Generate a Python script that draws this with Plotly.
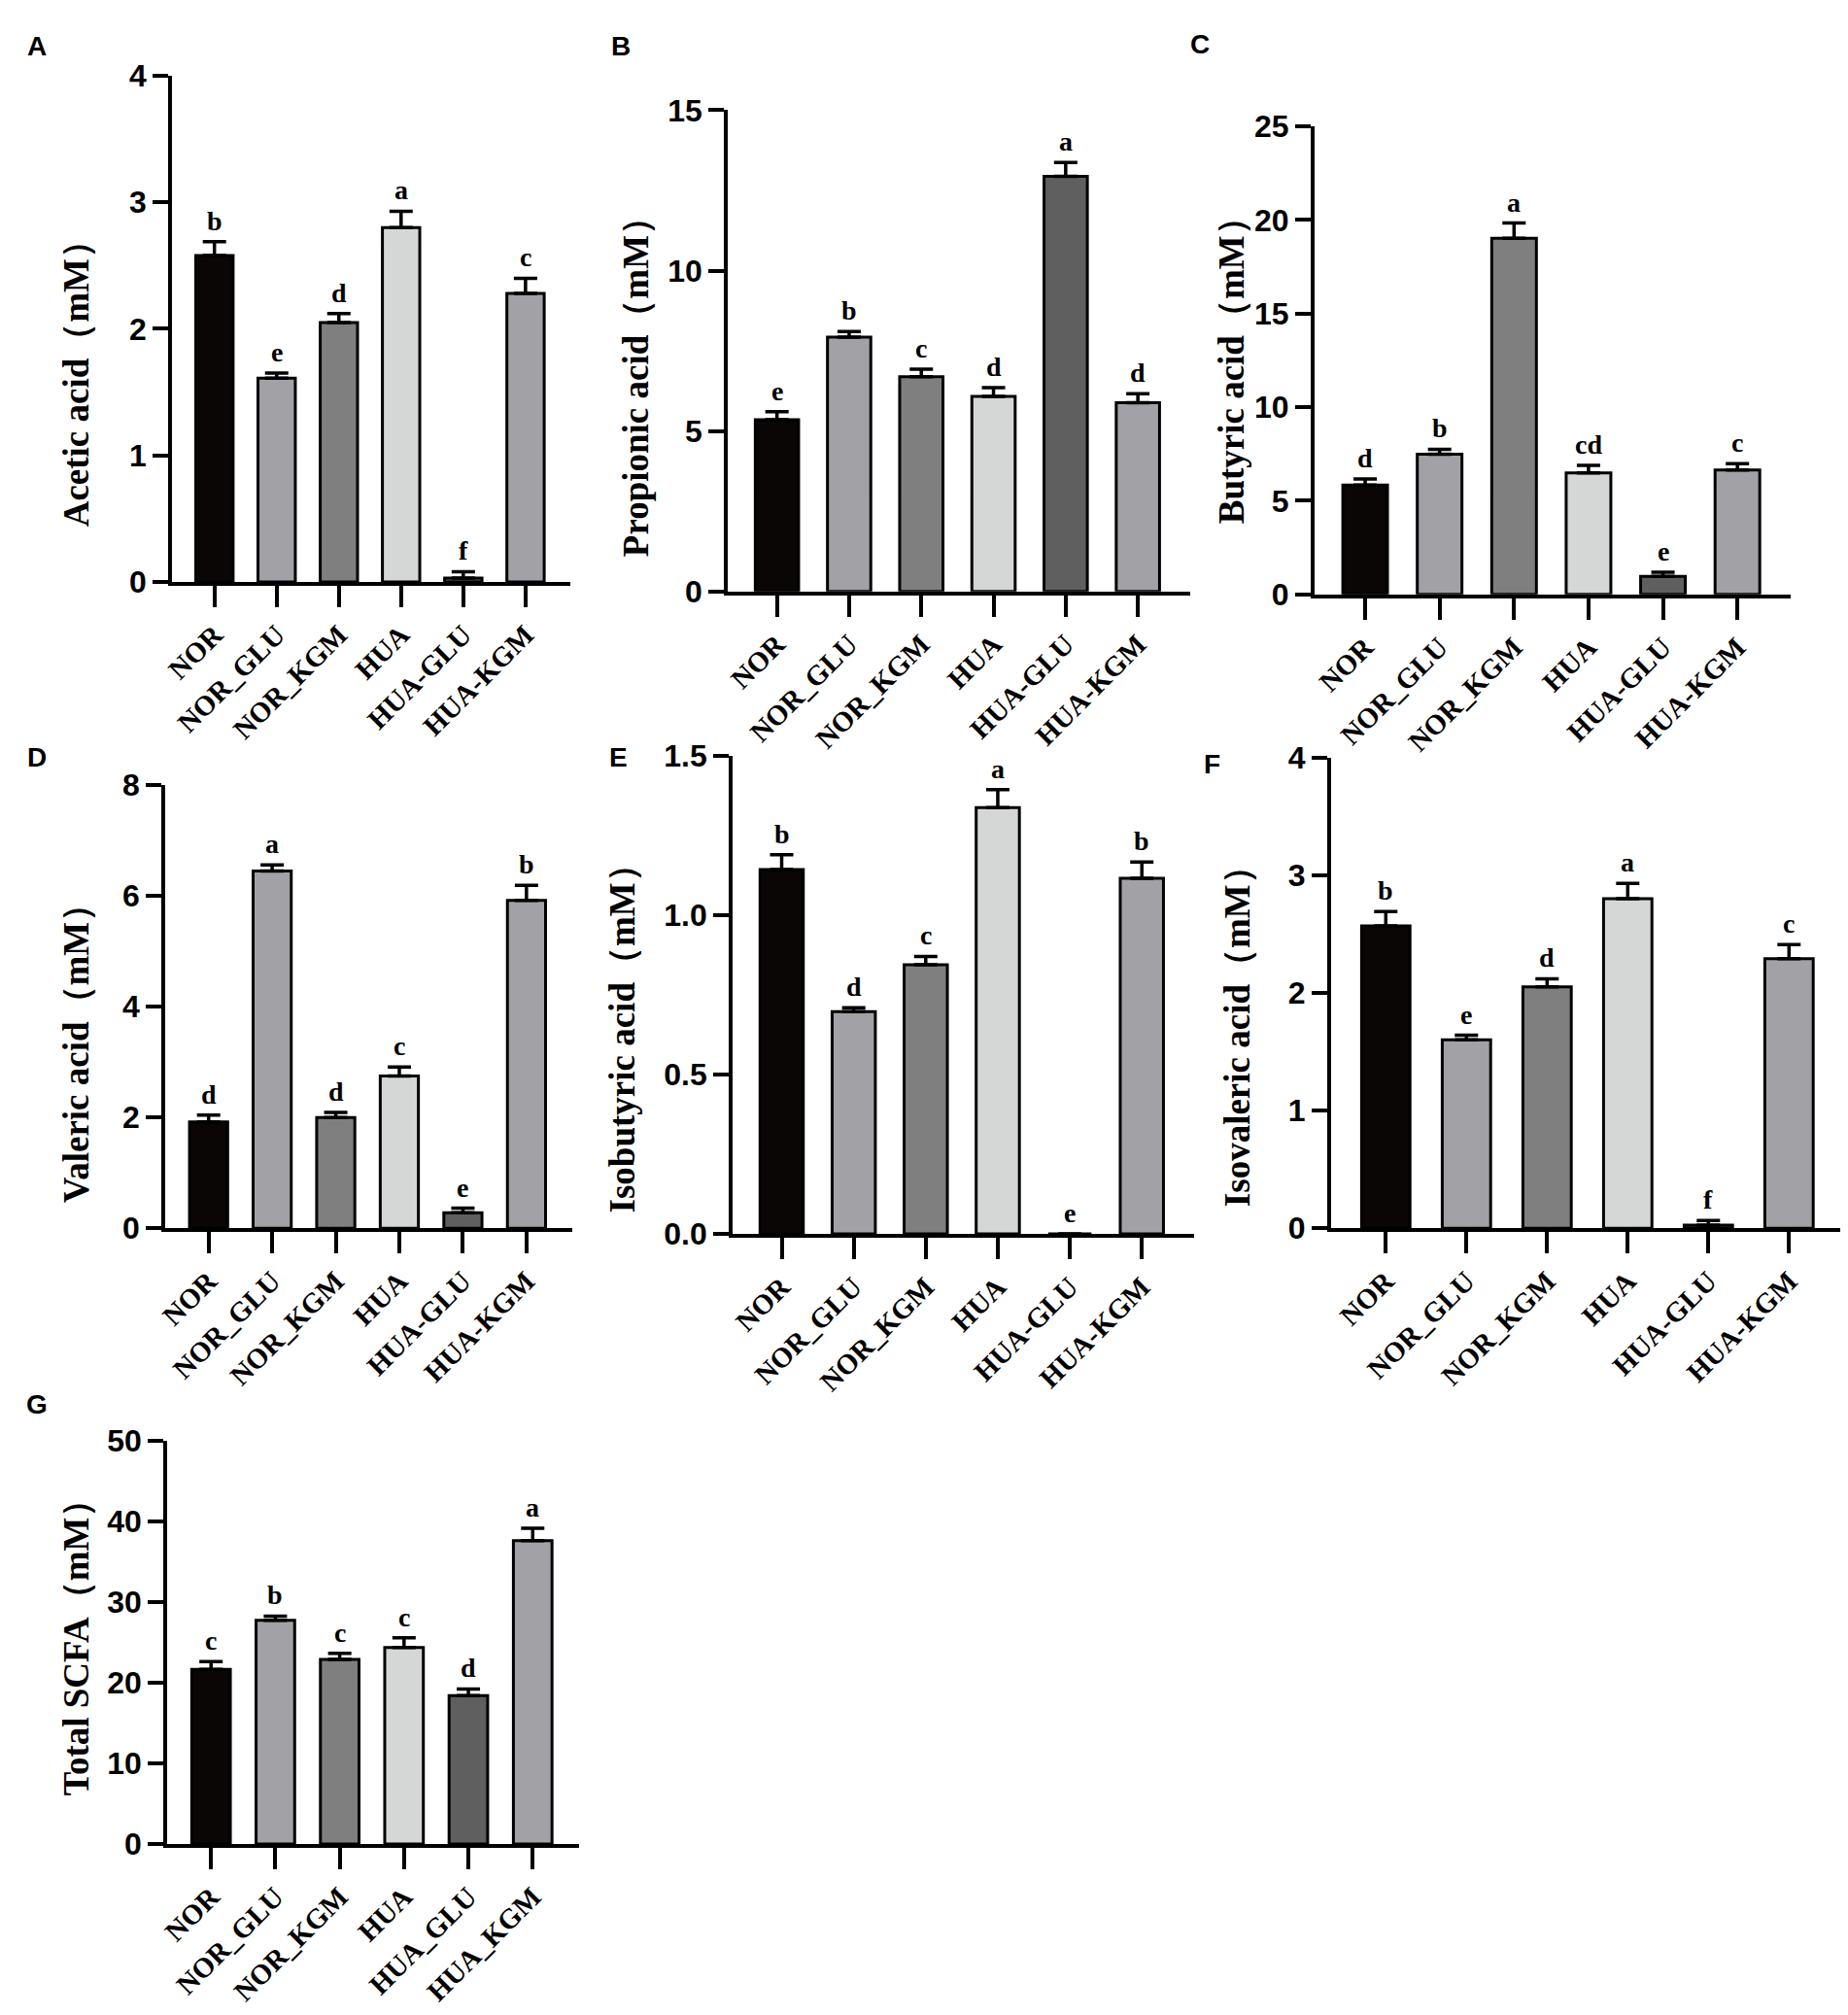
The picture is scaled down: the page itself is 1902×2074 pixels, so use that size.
import plotly.graph_objects as go

W, H = 1902, 2074

# groups on the x axis
groups = ["NOR", "NOR_GLU", "NOR_KGM", "HUA", "HUA-GLU", "HUA-KGM"]
groups_total = ["NOR", "NOR_GLU", "NOR_KGM", "HUA", "HUA_GLU", "HUA_KGM"]

# mean and upper error (mM), plus significance letters
acetic = [2.58, 1.61, 2.05, 2.80, 0.03, 2.28]
acetic_err = [0.11, 0.04, 0.07, 0.13, 0.05, 0.12]
acetic_sig = ["b", "e", "d", "a", "f", "c"]

propionic = [5.35, 7.93, 6.69, 6.08, 12.94, 5.88]
propionic_err = [0.25, 0.17, 0.24, 0.27, 0.43, 0.28]
propionic_sig = ["e", "b", "c", "d", "a", "d"]

butyric = [5.84, 7.48, 19.02, 6.48, 0.95, 6.64]
butyric_err = [0.32, 0.27, 0.82, 0.41, 0.23, 0.34]
butyric_sig = ["d", "b", "a", "cd", "e", "c"]

valeric = [1.92, 6.45, 2.00, 2.75, 0.28, 5.92]
valeric_err = [0.12, 0.11, 0.09, 0.16, 0.08, 0.27]
valeric_sig = ["d", "a", "d", "c", "e", "b"]

isobutyric = [1.143, 0.697, 0.844, 1.337, 0.0, 1.115]
isobutyric_err = [0.046, 0.012, 0.026, 0.056, 0.0, 0.051]
isobutyric_sig = ["b", "d", "c", "a", "e", "b"]

isovaleric = [2.57, 1.60, 2.05, 2.80, 0.025, 2.29]
isovaleric_err = [0.12, 0.04, 0.07, 0.13, 0.04, 0.12]
isovaleric_sig = ["b", "e", "d", "a", "f", "c"]

total = [21.67, 27.74, 22.91, 24.38, 18.42, 37.65]
total_err = [0.97, 0.54, 0.76, 1.19, 0.81, 1.52]
total_sig = ["c", "b", "c", "c", "d", "a"]

bar_colors = ["#0a0606", "#a2a1a6", "#7f7f7f", "#d5d7d6", "#5f5f5f", "#a2a1a6"]

SERIF = "Liberation Serif, Times New Roman, serif"
SANS = "Liberation Sans, Arial, sans-serif"

# box = (left, right, top, bottom) of the axes in pixels
panels = [
    dict(tag="A", cats=groups, vals=acetic, errs=acetic_err, sig=acetic_sig,
         title="Acetic acid（mM）", ymax=4, dtick=1, fmt="",
         box=(160, 572, 53, 583), title_xy=(61, 366), label_xy=(20, 22)),
    dict(tag="B", cats=groups, vals=propionic, errs=propionic_err, sig=propionic_sig,
         title="Propionic acid（mM）", ymax=15, dtick=5, fmt="",
         box=(735, 1213, 89, 593), title_xy=(640, 370), label_xy=(624, 22)),
    dict(tag="C", cats=groups, vals=butyric, errs=butyric_err, sig=butyric_sig,
         title="Butyric acid（mM）", ymax=25, dtick=5, fmt="",
         box=(1342, 1835, 106, 596), title_xy=(1256, 352), label_xy=(1223, 20)),
    dict(tag="D", cats=groups, vals=valeric, errs=valeric_err, sig=valeric_sig,
         title="Valeric acid（mM）", ymax=8, dtick=2, fmt="",
         box=(153, 574, 796, 1260), title_xy=(61, 1068), label_xy=(20, 767)),
    dict(tag="E", cats=groups, vals=isobutyric, errs=isobutyric_err, sig=isobutyric_sig,
         title="Isobutyric acid（mM）", ymax=1.5, dtick=0.5, fmt=".1f",
         box=(740, 1217, 765, 1266), title_xy=(626, 1052), label_xy=(622, 767)),
    dict(tag="F", cats=groups, vals=isovaleric, errs=isovaleric_err, sig=isovaleric_sig,
         title="Isovaleric acid（mM）", ymax=4, dtick=1, fmt="",
         box=(1359, 1893, 767, 1260), title_xy=(1262, 1050), label_xy=(1236, 774)),
    dict(tag="G", cats=groups_total, vals=total, errs=total_err, sig=total_sig,
         title="Total SCFA（mM）", ymax=50, dtick=10, fmt="",
         box=(155, 581, 1483, 1905), title_xy=(61, 1690), label_xy=(20, 1445)),
]

fig = go.Figure()
layout = dict(width=W, height=H, margin=dict(l=0, r=0, t=0, b=0),
              paper_bgcolor="white", plot_bgcolor="white", showlegend=False)
annotations = []

for i, p in enumerate(panels, start=1):
    sx = "" if i == 1 else str(i)
    fig.add_trace(go.Bar(
        x=p["cats"], y=p["vals"],
        xaxis="x" + sx, yaxis="y" + sx,
        width=0.6,
        marker=dict(color=bar_colors, line=dict(color="black", width=3)),
        error_y=dict(type="data", array=p["errs"], arrayminus=[0] * len(p["errs"]),
                     symmetric=False, color="black", thickness=3.5, width=12),
    ))
    left, right, top, bottom = p["box"]
    layout["xaxis" + sx] = dict(
        domain=[left / W, right / W], anchor="y" + sx, type="category",
        range=[-0.68, 5.72], showline=True, linecolor="black", linewidth=4,
        ticks="outside", ticklen=22, tickwidth=4, tickcolor="black",
        tickangle=-45, showgrid=False, zeroline=False,
        tickfont=dict(family=SERIF, size=29, color="black", weight="bold"),
    )
    layout["yaxis" + sx] = dict(
        domain=[1 - bottom / H, 1 - top / H], anchor="x" + sx,
        range=[0, p["ymax"]], tick0=0, dtick=p["dtick"], tickformat=p["fmt"],
        showline=True, linecolor="black", linewidth=4,
        ticks="outside", ticklen=16, tickwidth=4, tickcolor="black",
        showgrid=False, zeroline=False,
        tickfont=dict(family=SANS, size=32, color="black", weight="bold"),
    )
    for c, v, e, s in zip(p["cats"], p["vals"], p["errs"], p["sig"]):
        annotations.append(dict(
            xref="x" + sx, yref="y" + sx, x=c, y=v + e, text=s,
            showarrow=False, yanchor="bottom", yshift=4,
            font=dict(family=SERIF, size=28, color="black", weight="bold"),
        ))
    tx, ty = p["title_xy"]
    annotations.append(dict(
        xref="paper", yref="paper", x=tx / W, y=1 - ty / H, text=p["title"],
        textangle=-90, showarrow=False, xanchor="center", yanchor="middle",
        font=dict(family=SERIF, size=37, color="black", weight="bold"),
    ))
    lx, ly = p["label_xy"]
    annotations.append(dict(
        xref="paper", yref="paper", x=lx / W, y=1 - ly / H, text=p["tag"],
        showarrow=False, xanchor="center", yanchor="middle",
        font=dict(family=SANS, size=28, color="black", weight="bold"),
    ))

layout["annotations"] = annotations
fig.update_layout(**layout)

fig.write_html("out.html")
